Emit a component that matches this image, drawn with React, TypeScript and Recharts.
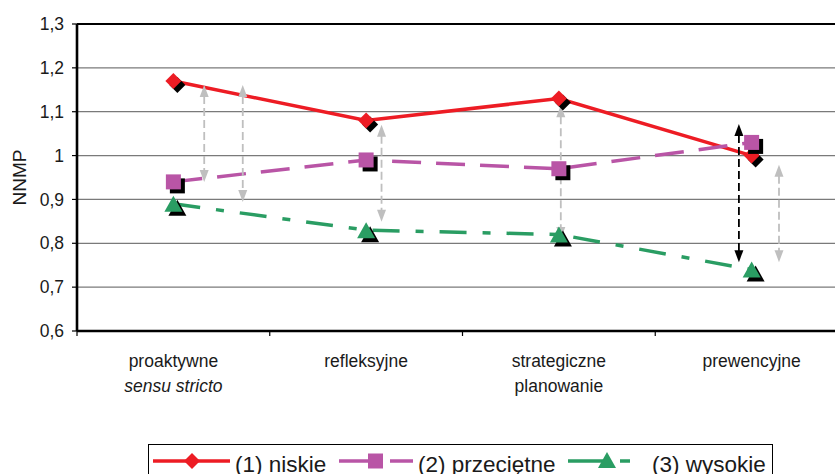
import React from 'react';
import { LineChart, Line, XAxis, YAxis, CartesianGrid, ReferenceLine, Legend } from 'recharts';

const categoryLabels: string[][] = [
  ['proaktywne', 'sensu stricto'],
  ['refleksyjne'],
  ['strategiczne', 'planowanie'],
  ['prewencyjne'],
];
const italicLines = ['sensu stricto'];

const niskie = [1.17, 1.08, 1.13, 1.0];
const przecietne = [0.94, 0.99, 0.97, 1.03];
const wysokie = [0.89, 0.83, 0.82, 0.74];

const yTicks = [0.6, 0.7, 0.8, 0.9, 1.0, 1.1, 1.2, 1.3];
const xTicks = [0, 0.5, 1, 1.5, 2, 2.5, 3, 3.5, 4];

const seriesNames = ['(1) niskie', '(2) przeciętne', '(3) wysokie'];

// comparison arrows: x on the category axis (0..4), from/to in NNMP units
const arrows = [
  { x: 0.66, from: 1.161, to: 0.94, dark: false },
  { x: 0.86, from: 1.161, to: 0.894, dark: false },
  { x: 1.58, from: 1.07, to: 0.849, dark: false },
  { x: 2.51, from: 1.115, to: 0.81, dark: false },
  { x: 3.434, from: 1.072, to: 0.757, dark: true },
  { x: 3.642, from: 0.979, to: 0.757, dark: false },
];

const data = categoryLabels.map((c, i) => ({
  x: i + 0.5,
  name: c.join(' '),
  niskie: niskie[i],
  przecietne: przecietne[i],
  wysokie: wysokie[i],
}));

const RED = '#ED1C24';
const PURPLE = '#B955A6';
const GREEN = '#2A9D63';
const FONT = '"Liberation Sans", Arial, Helvetica, sans-serif';

const fmt = (v: number) => (Math.abs(v - 1) < 1e-9 ? '1' : v.toFixed(1).replace('.', ','));

function shapePath(kind: string, cx: number, cy: number) {
  if (kind === 'diamond') {
    const h = 8;
    return `M${cx},${cy - h}L${cx + h},${cy}L${cx},${cy + h}L${cx - h},${cy}Z`;
  }
  if (kind === 'square') {
    const h = 7.5;
    return `M${cx - h},${cy - h}L${cx + h},${cy - h}L${cx + h},${cy + h}L${cx - h},${cy + h}Z`;
  }
  const w = 9;
  const hh = 8;
  return `M${cx},${cy - hh}L${cx + w},${cy + hh}L${cx - w},${cy + hh}Z`;
}

const makeDot = (kind: string, color: string) => (props: any) => {
  const { cx, cy, index } = props;
  if (cx == null || cy == null) return <g key={`d-${kind}-${index}`} />;
  return (
    <g key={`d-${kind}-${index}`}>
      <path d={shapePath(kind, cx + 4, cy + 4)} fill="#000" />
      <path d={shapePath(kind, cx, cy)} fill={color} />
    </g>
  );
};

const XTick = (props: any) => {
  const { x, y, payload } = props;
  const v = payload.value as number;
  if (Number.isInteger(v)) {
    return <line x1={x} x2={x} y1={y} y2={y + 5} stroke="#000" strokeWidth={1.2} />;
  }
  const lines = categoryLabels[Math.floor(v)] || [];
  return (
    <g>
      {lines.map((t, j) => (
        <text
          key={j}
          x={x}
          y={y + 36 + j * 25}
          textAnchor="middle"
          fontSize={17.5}
          fontStyle={italicLines.includes(t) ? 'italic' : 'normal'}
          fill="#1a1a1a"
          fontFamily={FONT}
        >
          {t}
        </text>
      ))}
    </g>
  );
};

const YTitle = (props: any) => {
  const vb = props.viewBox || { x: 0, y: 24, width: 77, height: 307 };
  const cx = vb.x + 19.5;
  const cy = vb.y + vb.height / 2;
  return (
    <text
      x={cx}
      y={cy}
      transform={`rotate(-90 ${cx} ${cy})`}
      textAnchor="middle"
      dominantBaseline="central"
      fontSize={19}
      fill="#1a1a1a"
      fontFamily={FONT}
    >
      NNMP
    </text>
  );
};

const makeArrowShape = (dark: boolean) => (props: any) => {
  const x = Number(props.x1);
  const ya = Number(props.y1);
  const yb = Number(props.y2);
  const top = Math.min(ya, yb);
  const bottom = Math.max(ya, yb);
  const color = dark ? '#000' : '#BFBFBF';
  const hl = 12;
  const hw = 4.5;
  return (
    <g>
      <line x1={x} x2={x} y1={top + hl - 1} y2={bottom - hl + 1} stroke={color} strokeWidth={1.8} strokeDasharray="8 4" />
      <path d={`M${x},${top}L${x + hw},${top + hl}L${x - hw},${top + hl}Z`} fill={color} />
      <path d={`M${x},${bottom}L${x + hw},${bottom - hl}L${x - hw},${bottom - hl}Z`} fill={color} />
    </g>
  );
};

const LegendBox = () => (
  <div
    style={{
      width: 625,
      height: 36,
      border: '1.2px solid #000',
      boxSizing: 'border-box',
      background: '#fff',
      position: 'relative',
    }}
  >
    <svg width={625} height={36} style={{ position: 'absolute', left: 0, top: 0, overflow: 'visible' }}>
      <line x1={4} x2={81} y1={16} y2={16} stroke={RED} strokeWidth={3.5} />
      <path d={shapePath('diamond', 43, 16)} fill={RED} />
      <text x={86} y={27} fontSize={22.5} fill="#1a1a1a" fontFamily={FONT}>{seriesNames[0]}</text>

      <line x1={190} x2={231} y1={16} y2={16} stroke={PURPLE} strokeWidth={3.5} />
      <line x1={241} x2={264} y1={16} y2={16} stroke={PURPLE} strokeWidth={3.5} />
      <path d={shapePath('square', 226.5, 16)} fill={PURPLE} />
      <text x={269} y={27} fontSize={22.5} fill="#1a1a1a" fontFamily={FONT}>{seriesNames[1]}</text>

      <line x1={419} x2={458} y1={16} y2={16} stroke={GREEN} strokeWidth={3.5} />
      <line x1={471} x2={481} y1={16} y2={16} stroke={GREEN} strokeWidth={3.5} />
      <path d={shapePath('triangle', 458, 15)} fill={GREEN} />
      <text x={503} y={27} fontSize={22.5} fill="#1a1a1a" fontFamily={FONT}>{seriesNames[2]}</text>
    </svg>
  </div>
);

export default function App() {
  return (
    <div
      style={{
        position: 'absolute',
        left: 0,
        top: 0,
        width: 835,
        height: 474,
        overflow: 'hidden',
        background: '#fff',
        fontFamily: FONT,
      }}
    >
      <LineChart width={860} height={474} data={data} margin={{ top: 24, right: 12, left: 0, bottom: 0 }}>
        <CartesianGrid vertical={false} stroke="#7a7a7a" strokeWidth={1.3} />
        <XAxis
          type="number"
          dataKey="x"
          domain={[0, 4]}
          ticks={xTicks}
          interval={0}
          tickLine={false}
          tickSize={0}
          tickMargin={0}
          tick={<XTick />}
          height={143}
          axisLine={{ stroke: '#000', strokeWidth: 2.6 }}
        />
        <YAxis
          type="number"
          domain={[0.6, 1.3]}
          ticks={yTicks}
          interval={0}
          width={77}
          tickSize={5}
          tickMargin={8}
          tickFormatter={fmt}
          tick={{ fontSize: 17.5, fill: '#1a1a1a', fontFamily: FONT }}
          axisLine={{ stroke: '#000', strokeWidth: 2.6 }}
          tickLine={{ stroke: '#000', strokeWidth: 1.2 }}
          label={<YTitle />}
        />
        <ReferenceLine y={1.3} stroke="#000" strokeWidth={2.2} />
        <Line
          dataKey="niskie"
          name={seriesNames[0]}
          stroke={RED}
          strokeWidth={3.5}
          dot={makeDot('diamond', RED)}
          activeDot={false}
          isAnimationActive={false}
        />
        <Line
          dataKey="przecietne"
          name={seriesNames[1]}
          stroke={PURPLE}
          strokeWidth={3.5}
          strokeDasharray="29 15"
          dot={makeDot('square', PURPLE)}
          activeDot={false}
          isAnimationActive={false}
        />
        <Line
          dataKey="wysokie"
          name={seriesNames[2]}
          stroke={GREEN}
          strokeWidth={3.5}
          strokeDasharray="27 16 8 16"
          dot={makeDot('triangle', GREEN)}
          activeDot={false}
          isAnimationActive={false}
        />
        {arrows.map((a, i) => (
          <ReferenceLine
            key={`arr-${i}`}
            segment={[
              { x: a.x, y: a.from },
              { x: a.x, y: a.to },
            ]}
            shape={makeArrowShape(a.dark)}
          />
        ))}
        <Legend
          layout="horizontal"
          verticalAlign="middle"
          align="center"
          wrapperStyle={{ left: 148, top: 444, width: 625, height: 36 }}
          content={() => <LegendBox />}
        />
      </LineChart>
    </div>
  );
}
